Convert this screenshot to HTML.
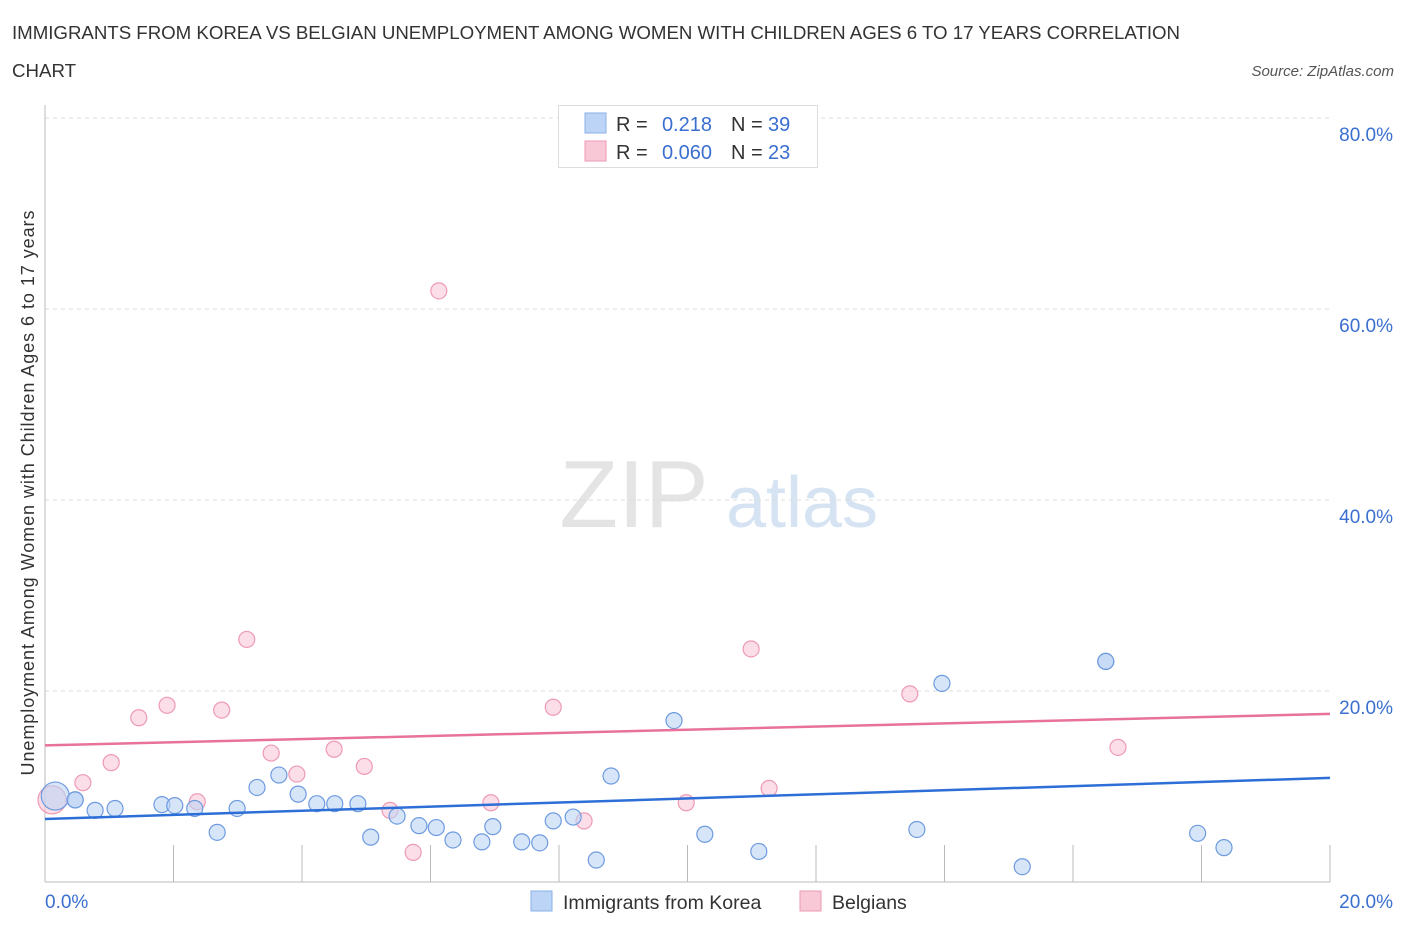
<!DOCTYPE html>
<html><head><meta charset="utf-8">
<style>
body{margin:0;background:#fff;font-family:"Liberation Sans",sans-serif;}
svg text{font-family:"Liberation Sans",sans-serif;}
</style></head>
<body>
<svg id="chart" width="1406" height="930" xmlns="http://www.w3.org/2000/svg">
<text x="12" y="39" font-size="18.7" fill="#333" textLength="1168">IMMIGRANTS FROM KOREA VS BELGIAN UNEMPLOYMENT AMONG WOMEN WITH CHILDREN AGES 6 TO 17 YEARS CORRELATION</text>
<text x="12" y="77" font-size="18.7" fill="#333">CHART</text>
<text x="1394" y="76" font-size="15" fill="#555" font-style="italic" text-anchor="end">Source: ZipAtlas.com</text>
<text x="634" y="527" font-size="96" fill="#e4e4e4" font-family="Liberation Serif" text-anchor="middle">ZIP</text>
<text x="802" y="527" font-size="72" fill="#d6e3f3" text-anchor="middle">atlas</text>
<g id="grid"></g>
<g id="axes"></g>
<g id="marks"></g>
<text transform="translate(34,493) rotate(-90)" font-size="18" fill="#333" text-anchor="middle" textLength="565">Unemployment Among Women with Children Ages 6 to 17 years</text>
<g>
<rect x="558.5" y="105.5" width="259" height="62" fill="#fff" stroke="#ddd"/>
<rect x="585" y="113" width="21" height="20" fill="#bcd4f5" stroke="#8ab0e8"/>
<rect x="585" y="141" width="21" height="20" fill="#f8c8d7" stroke="#ee9ab5"/>
<text x="616" y="131" font-size="20" fill="#333">R =</text>
<text x="712" y="131" font-size="20" fill="#3a6fd0" text-anchor="end">0.218</text>
<text x="731" y="131" font-size="20" fill="#333">N =</text>
<text x="768" y="131" font-size="20" fill="#3a6fd0">39</text>
<text x="616" y="159" font-size="20" fill="#333">R =</text>
<text x="712" y="159" font-size="20" fill="#3a6fd0" text-anchor="end">0.060</text>
<text x="731" y="159" font-size="20" fill="#333">N =</text>
<text x="768" y="159" font-size="20" fill="#3a6fd0">23</text>
</g>
<g>
<rect x="531" y="891" width="21" height="20" fill="#bcd4f5" stroke="#8ab0e8"/>
<text x="563" y="909" font-size="19.5" fill="#333">Immigrants from Korea</text>
<rect x="800" y="891" width="21" height="20" fill="#f8c8d7" stroke="#ee9ab5"/>
<text x="832" y="909" font-size="19.5" fill="#333">Belgians</text>
</g>
</svg>
<script>
const yTicks=[20,40,60,80];
const yTickLabels=["20.0%","40.0%","60.0%","80.0%"];
const xTickLabels=["0.0%","20.0%"];
const koreaX=[0.16,0.47,0.78,1.09,1.82,2.02,2.33,2.68,2.99,3.30,3.64,3.94,4.23,4.51,4.87,5.07,5.48,5.82,6.09,6.35,6.80,6.97,7.42,7.70,7.91,8.22,8.58,8.81,9.79,10.27,11.11,13.57,13.96,16.51,16.51,15.21,17.94,18.35,0.47];
const koreaY=[9.0,8.6,7.5,7.7,8.1,8.0,7.7,5.2,7.7,9.9,11.2,9.2,8.2,8.2,8.2,4.7,6.9,5.9,5.7,4.4,4.2,5.8,4.2,4.1,6.4,6.8,2.3,11.1,16.9,5.0,3.2,5.5,20.8,23.1,23.1,1.6,5.1,3.6,8.6];
const belgX=[0.11,0.59,1.03,1.46,1.90,2.37,2.75,3.14,3.52,3.92,4.50,4.97,5.37,5.73,6.13,6.94,7.91,8.39,9.98,10.99,11.27,13.46,16.70];
const belgY=[8.6,10.4,12.5,17.2,18.5,8.4,18.0,25.4,13.5,11.3,13.9,12.1,7.5,3.1,61.9,8.3,18.3,6.4,8.3,24.4,9.8,19.7,14.1];
const koreaTrend=[6.6,10.9];
const belgTrend=[14.3,17.6];
const NS="http://www.w3.org/2000/svg";
const X=v=>45+v/20*1285;
const Y=v=>882-v/20*191;
function mk(tag,attrs,parent){const e=document.createElementNS(NS,tag);for(const k in attrs)e.setAttribute(k,attrs[k]);document.getElementById(parent).appendChild(e);return e;}
yTicks.forEach((t,i)=>{
 const l=mk('line',{x1:45,x2:1330,y1:Y(t),y2:Y(t),stroke:'#ddd','stroke-dasharray':'4,4'},'grid');
 
 
 const tx=mk('text',{x:1393,y:Y(t)+23,'font-size':19,fill:'#3a6fd0','text-anchor':'end'},'axes');
 tx.textContent=yTickLabels[i];
 
 
});
let a=mk('line',{x1:45,x2:45,y1:105,y2:882,stroke:'#bbb'},'axes');


a=mk('line',{x1:45,x2:1330,y1:882,y2:882,stroke:'#bbb'},'axes');


for(let i=1;i<=10;i++){
 const t=mk('line',{x1:X(i*2),x2:X(i*2),y1:845,y2:882,stroke:'#bbb'},'axes');
 
 
}
[[0,45,'start'],[20,1393,'end']].forEach((p,i)=>{
 const t=mk('text',{x:p[1],y:908,'font-size':19,fill:'#3a6fd0','text-anchor':p[2]},'axes');
 t.textContent=xTickLabels[i];
 
 
});
function pts(xs,ys,fill,stroke,name){
 xs.forEach((x,i)=>{
  const r=i===0?14:8;
  const c=mk('circle',{cx:X(x),cy:Y(ys[i]),r:r,fill:fill,stroke:stroke,'stroke-width':1.2,'fill-opacity':0.6},'marks');
  
  
 });
}
pts(belgX,belgY,'#f8c8d7','#ee9ab5','belgians-point');
pts(koreaX,koreaY,'#bcd4f5','#6e9be0','korea-point');
let tl=mk('line',{x1:X(0),x2:X(20),y1:Y(koreaTrend[0]),y2:Y(koreaTrend[1]),stroke:'#2d6fd6','stroke-width':2.5},'marks');


tl=mk('line',{x1:X(0),x2:X(20),y1:Y(belgTrend[0]),y2:Y(belgTrend[1]),stroke:'#e8729a','stroke-width':2.5},'marks');


</script>
</body></html>
